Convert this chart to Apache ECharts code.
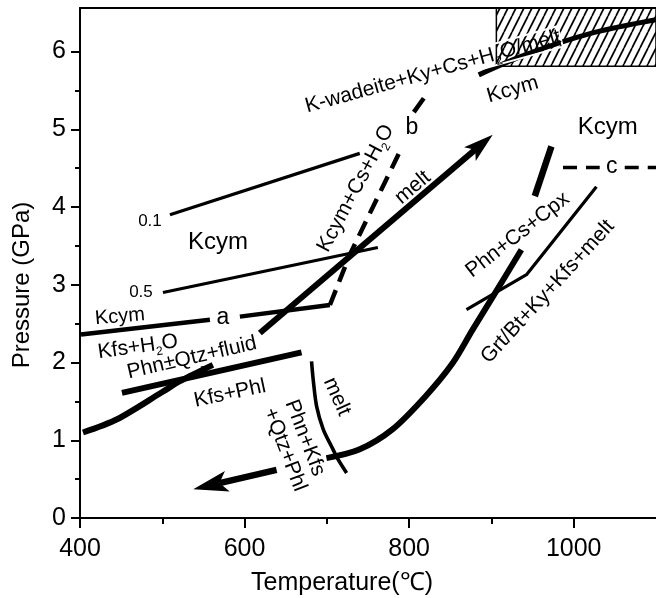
<!DOCTYPE html>
<html><head><meta charset="utf-8">
<script src="https://cdn.jsdelivr.net/npm/echarts@6/dist/echarts.min.js"></script>
<style>html,body{margin:0;padding:0;background:#fff}#c{width:656px;height:598px}</style>
</head><body><div id="c"></div>
<script>
// ---- data (temperature in °C, pressure in GPa) ----
const xTicks = [400, 600, 800, 1000];
const xMinorTicks = [500, 700, 900];
const yTicks = [0, 1, 2, 3, 4, 5, 6];
const yMinorTicks = [0.5, 1.5, 2.5, 3.5, 4.5, 5.5];

const hatchBox = [[906, 5.81], [1100, 6.56]];
const topReaction = [[884.6, 5.70], [941.7, 5.96], [1023, 6.24], [1100, 6.41]];
const isopleth01 = [[509.3, 3.90], [740, 4.69]];
const isopleth05 = [[500.8, 2.90], [762, 3.48]];
const lineA1 = [[401.2, 2.36], [557.9, 2.55]];
const lineA2 = [[594.3, 2.59], [703.7, 2.74]];
const lineB1 = [[703.7, 2.74], [728, 3.39], [789.9, 4.74]];
const lineB2 = [[805.7, 5.22], [817.8, 5.40]];
const progradeLow = [[403.6, 1.10], [445, 1.27], [500, 1.62], [521.5, 1.76], [561.5, 1.97]];
const meltArrow = [[618.6, 2.38], [901.6, 4.93]];
const kfsPhl = [[451, 1.61], [669.2, 2.13]];
const meltCurve = [[681.4, 2.015], [683.4, 1.78], [687.5, 1.44], [695.6, 1.14], [705.7, 0.92], [713.8, 0.75], [724, 0.58]];
const retroCurve = [[699.5, 0.77], [739.3, 0.88], [779.7, 1.14], [820.3, 1.57], [852.7, 1.99], [877, 2.42], [902, 2.85], [936.4, 3.45]];
const retroArrow = [[638.9, 0.62], [537.6, 0.37]];
const grtLine = [[869.7, 2.68], [942.6, 3.13], [1027.6, 4.26]];
const cpxSeg = [[952.7, 4.14], [972.9, 4.78]];
const lineC1 = [[987, 4.51], [1031.6, 4.51]];
const lineC2 = [[1062, 4.51], [1100, 4.51]];

// labels: [text(rich), T, P, rotation(deg)]
const labels = [
  ['{n|K-wadeite+Ky+Cs+H}{s|2}{n|O/melt}', 828.8, 5.74, 15.5],
  ['{n|Kcym}', 925.9, 5.51, 16],
  ['{L|Kcym}', 1041.3, 5.02, 0],
  ['{b|b}', 803.3, 5.02, 0],
  ['{t|0.1}', 485, 3.81, 0],
  ['{L|Kcym}', 567.6, 3.54, 0],
  ['{n|Kcym+Cs+H}{s|2}{n|O}', 735.2, 4.24, 62],
  ['{n|melt}', 804.5, 4.25, 40],
  ['{b|c}', 1046.2, 4.52, 0],
  ['{t|0.5}', 474.1, 2.90, 0],
  ['{m|Kcym}', 448.6, 2.59, 5],
  ['{b|a}', 573.7, 2.58, 0],
  ['{n|Kfs+H}{s|2}{n|O}', 470.4, 2.20, 8],
  ['{n|Phn±Qtz+fluid}', 536, 2.06, 13],
  ['{n|Kfs+Phl}', 582.2, 1.60, 12],
  ['{n|melt}', 712.2, 1.56, -66],
  ['{n|Phn+Kfs}', 673.3, 1.03, -69],
  ['{n|+Qtz+Phl}', 649, 0.88, -69],
  ['{n|Phn+Cs+Cpx}', 932, 3.64, 38],
  ['{n|Grt/Bt+Ky+Kfs+melt}', 968.4, 2.91, 47.5]
];

const FONT = '"Liberation Sans", Arial, Helvetica, sans-serif';

// hatch pattern
const pc = document.createElement('canvas');
pc.width = 8; pc.height = 16;
const g = pc.getContext('2d');
g.strokeStyle = '#000'; g.lineWidth = 1.7;
for (let x0 = -8; x0 <= 8; x0 += 8) { g.beginPath(); g.moveTo(x0, 16); g.lineTo(x0 + 8, 0); g.stroke(); }

const chart = echarts.init(document.getElementById('c'), null, {renderer: 'canvas'});

function ln(data, width, dash, smooth) {
  return {type: 'line', data: data, symbol: 'none', showSymbol: false, silent: true, animation: false, z: 3,
    smooth: smooth || false,
    lineStyle: {color: '#000', width: width, type: dash || 'solid', cap: 'butt', join: 'round'}};
}

const arrows = [
  [meltArrow[1][0], meltArrow[1][1], meltArrow[0][0], meltArrow[0][1]],
  [retroArrow[1][0], retroArrow[1][1], retroArrow[0][0], retroArrow[0][1]],
  [progradeLow[4][0], progradeLow[4][1], progradeLow[3][0], progradeLow[3][1]]
];
const arrowStyle = [[30, 9, 7, 6], [35, 10.5, 8, 6.5], [12, 4, 2, 0]]; // length, half width, notch, shaft width

const plain = function (v) { return String(v); };
const axisCommon = {type: 'value', min: 400, max: 1100, splitLine: {show: false}};
const option = {
  animation: false,
  backgroundColor: '#fff',
  grid: {left: 80, right: 0, top: 8, bottom: 80},
  xAxis: [
    Object.assign({}, axisCommon, {position: 'bottom',
      axisLine: {show: true, onZero: false, lineStyle: {color: '#000', width: 2}},
      axisTick: {show: true, length: 10, customValues: xTicks, lineStyle: {color: '#000', width: 2}},
      axisLabel: {customValues: xTicks, formatter: plain, color: '#000', fontSize: 25, fontFamily: FONT, margin: 19}}),
    Object.assign({}, axisCommon, {position: 'bottom',
      axisLine: {show: false},
      axisTick: {show: true, length: 6, customValues: xMinorTicks, lineStyle: {color: '#000', width: 2}},
      axisLabel: {show: false}}),
    Object.assign({}, axisCommon, {position: 'top',
      axisLine: {show: true, onZero: false, lineStyle: {color: '#000', width: 2}},
      axisTick: {show: false}, axisLabel: {show: false}})
  ],
  yAxis: [
    {type: 'value', min: 0, max: 6.56, position: 'left', splitLine: {show: false},
      axisLine: {show: true, onZero: false, lineStyle: {color: '#000', width: 2}},
      axisTick: {show: true, length: 9, customValues: yTicks, lineStyle: {color: '#000', width: 2}},
      axisLabel: {customValues: yTicks, formatter: plain, color: '#000', fontSize: 25, fontFamily: FONT, margin: 14}},
    {type: 'value', min: 0, max: 6.56, position: 'left', splitLine: {show: false},
      axisLine: {show: false},
      axisTick: {show: true, length: 5, customValues: yMinorTicks, lineStyle: {color: '#000', width: 2}},
      axisLabel: {show: false}}
  ],
  series: [
    {type: 'custom', silent: true, z: 1, data: [[hatchBox[0][0], hatchBox[0][1], hatchBox[1][0], hatchBox[1][1]]],
      renderItem: function (params, api) {
        const p0 = api.coord([api.value(0), api.value(1)]);
        const p1 = api.coord([api.value(2), api.value(3)]);
        return {type: 'rect', shape: {x: p0[0], y: p1[1], width: p1[0] - p0[0], height: p0[1] - p1[1]},
          style: {fill: {image: pc, repeat: 'repeat'}, stroke: '#000', lineWidth: 1.5}};
      }},
    ln(topReaction, 5, null, 0.3),
    ln(isopleth01, 3.2),
    ln(isopleth05, 3.2),
    ln(lineA1, 4.5),
    ln(lineA2, 4.5),
    ln(lineB1, 4.5, [16, 9]),
    ln(lineB2, 4.5),
    ln(progradeLow, 6, null, 0.3),
    ln(kfsPhl, 6),
    ln(meltCurve, 3.6, null, 0.3),
    ln(retroCurve, 6, null, 0.3),
    ln(grtLine, 3.2),
    ln(cpxSeg, 6.5),
    ln(lineC1, 3.5, [14, 9]),
    ln(lineC2, 3.5, [14, 9]),
    {type: 'custom', silent: true, z: 4, data: arrows,
      renderItem: function (params, api) {
        const tip = api.coord([api.value(0), api.value(1)]);
        const from = api.coord([api.value(2), api.value(3)]);
        const s = arrowStyle[params.dataIndex];
        const dx = tip[0] - from[0], dy = tip[1] - from[1];
        const d = Math.hypot(dx, dy), ux = dx / d, uy = dy / d, px = -uy, py = ux;
        const L = s[0], W = s[1], N = s[2];
        const bx = tip[0] - ux * L, by = tip[1] - uy * L;
        const notch = [tip[0] - ux * (L - N), tip[1] - uy * (L - N)];
        const children = [
          {type: 'polygon', shape: {points: [tip, [bx + px * W, by + py * W], notch, [bx - px * W, by - py * W]]},
            style: {fill: '#000'}}
        ];
        if (s[3] > 0) {
          children.unshift({type: 'line', shape: {x1: from[0], y1: from[1], x2: notch[0], y2: notch[1]},
            style: {stroke: '#000', lineWidth: s[3]}});
        }
        return {type: 'group', children: children};
      }}
  ]
};
chart.setOption(option);

const rich = {
  n: {fontSize: 21, fontFamily: FONT, color: '#000'},
  m: {fontSize: 20, fontFamily: FONT, color: '#000'},
  L: {fontSize: 24, fontFamily: FONT, color: '#000'},
  b: {fontSize: 23, fontFamily: FONT, color: '#000'},
  t: {fontSize: 17, fontFamily: FONT, color: '#000'},
  s: {fontSize: 12, fontFamily: FONT, color: '#000', verticalAlign: 'bottom', padding: [0, 0, -3, 0]}
};
const graphics = labels.map(function (l, i) {
  const p = chart.convertToPixel({gridIndex: 0}, [l[1], l[2]]);
  const st = {text: l[0], rich: rich, align: 'center', verticalAlign: 'middle'};
  if (i === 0) { st.textBorderColor = '#fff'; st.textBorderWidth = 2; }
  return {type: 'text', x: p[0], y: p[1], rotation: l[3] * Math.PI / 180, z: 10, silent: true, style: st};
});
graphics.push({type: 'text', x: 342, y: 583, z: 10, silent: true,
  style: {text: 'Temperature(℃)', font: '25px ' + FONT, fill: '#000', align: 'center', verticalAlign: 'middle'}});
graphics.push({type: 'text', x: 22, y: 285, rotation: Math.PI / 2, z: 10, silent: true,
  style: {text: 'Pressure (GPa)', font: '24px ' + FONT, fill: '#000', align: 'center', verticalAlign: 'middle'}});
chart.setOption({graphic: graphics});
</script></body></html>
